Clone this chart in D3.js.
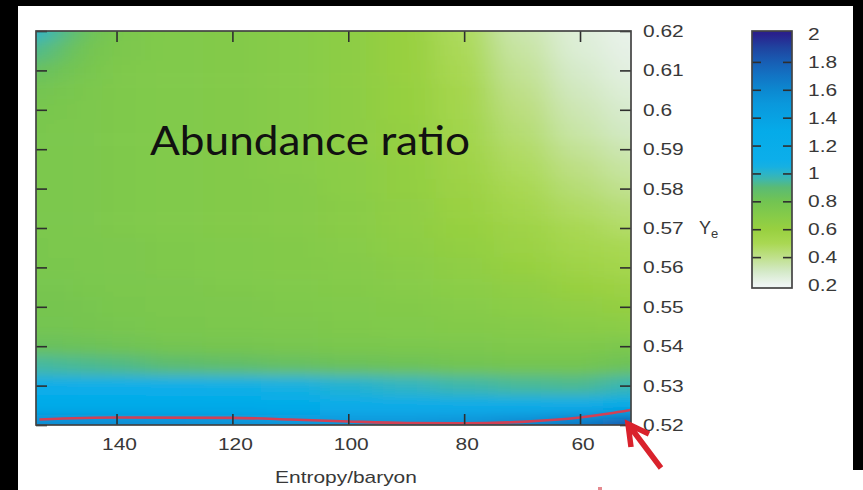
<!DOCTYPE html>
<html>
<head>
<meta charset="utf-8">
<script src="https://cdn.jsdelivr.net/npm/d3@7"></script>
<style>
  body { margin: 0; background: #fff; }
  svg { display: block; }
  .tick text { font-family: "Liberation Sans", Arial, sans-serif; font-size: 17px; fill: #383838; }
</style>
</head>
<body>
<svg id="chart" width="863" height="490"></svg>
<script>
// Grid columns (entropy per baryon) and rows (electron fraction Ye)
const entropy = [154, 150, 145, 140, 130, 120, 110, 100, 90, 80, 70, 60, 52];
const yeLevels = [0.62, 0.615, 0.61, 0.605, 0.60, 0.595, 0.59, 0.585, 0.58, 0.575, 0.57,
                  0.565, 0.56, 0.555, 0.55, 0.545, 0.54, 0.535, 0.53, 0.525, 0.52];

// Abundance ratio, one row per Ye level (top to bottom), one value per entropy column
const ratio = [
  [1.02, 0.92, 0.82, 0.75, 0.72, 0.71, 0.69, 0.66, 0.60, 0.48, 0.34, 0.26, 0.22],
  [0.93, 0.86, 0.79, 0.74, 0.72, 0.71, 0.69, 0.66, 0.60, 0.49, 0.36, 0.27, 0.23],
  [0.85, 0.81, 0.77, 0.73, 0.72, 0.71, 0.69, 0.66, 0.60, 0.50, 0.38, 0.29, 0.24],
  [0.80, 0.77, 0.75, 0.73, 0.72, 0.71, 0.69, 0.66, 0.61, 0.52, 0.40, 0.31, 0.26],
  [0.77, 0.76, 0.74, 0.73, 0.72, 0.71, 0.69, 0.66, 0.61, 0.53, 0.42, 0.33, 0.28],
  [0.76, 0.75, 0.74, 0.73, 0.72, 0.71, 0.69, 0.66, 0.62, 0.54, 0.44, 0.35, 0.30],
  [0.75, 0.75, 0.74, 0.73, 0.72, 0.71, 0.69, 0.66, 0.62, 0.55, 0.46, 0.38, 0.33],
  [0.75, 0.75, 0.74, 0.73, 0.72, 0.71, 0.69, 0.67, 0.63, 0.56, 0.48, 0.41, 0.36],
  [0.75, 0.75, 0.74, 0.73, 0.72, 0.71, 0.70, 0.67, 0.63, 0.57, 0.50, 0.44, 0.39],
  [0.75, 0.75, 0.74, 0.73, 0.72, 0.71, 0.70, 0.68, 0.64, 0.59, 0.53, 0.47, 0.43],
  [0.75, 0.75, 0.74, 0.73, 0.72, 0.71, 0.70, 0.68, 0.65, 0.61, 0.56, 0.50, 0.46],
  [0.76, 0.75, 0.75, 0.74, 0.73, 0.72, 0.71, 0.69, 0.66, 0.63, 0.58, 0.53, 0.50],
  [0.76, 0.76, 0.75, 0.74, 0.73, 0.72, 0.71, 0.70, 0.68, 0.65, 0.61, 0.56, 0.53],
  [0.77, 0.77, 0.76, 0.75, 0.74, 0.73, 0.72, 0.71, 0.69, 0.67, 0.64, 0.60, 0.57],
  [0.78, 0.78, 0.77, 0.76, 0.75, 0.74, 0.73, 0.72, 0.71, 0.69, 0.67, 0.64, 0.62],
  [0.79, 0.79, 0.78, 0.77, 0.76, 0.75, 0.74, 0.73, 0.72, 0.71, 0.70, 0.68, 0.67],
  [0.83, 0.83, 0.82, 0.81, 0.79, 0.78, 0.77, 0.76, 0.75, 0.74, 0.73, 0.73, 0.74],
  [0.95, 0.94, 0.93, 0.92, 0.89, 0.87, 0.85, 0.83, 0.82, 0.80, 0.79, 0.79, 0.82],
  [1.14, 1.14, 1.13, 1.12, 1.10, 1.08, 1.05, 1.02, 0.99, 0.96, 0.94, 0.93, 0.97],
  [1.30, 1.30, 1.30, 1.29, 1.28, 1.27, 1.26, 1.25, 1.24, 1.22, 1.21, 1.21, 1.26],
  [1.58, 1.58, 1.58, 1.57, 1.56, 1.54, 1.52, 1.52, 1.52, 1.54, 1.60, 1.68, 1.82]
];

// Red contour near the bottom of the map
const contourEntropy = [153.3, 140, 120, 110, 100, 90, 80, 70, 60, 55, 51.3];
const contourYe = [0.5214, 0.5219, 0.5218, 0.5214, 0.5209, 0.5205, 0.5204, 0.5208, 0.5219, 0.5229, 0.5238];

// Axis ticks
const xTicks = [140, 120, 100, 80, 60];
const yTicks = [0.52, 0.53, 0.54, 0.55, 0.56, 0.57, 0.58, 0.59, 0.60, 0.61, 0.62];
const cbTicks = [0.2, 0.4, 0.6, 0.8, 1.0, 1.2, 1.4, 1.6, 1.8, 2.0];

// Palette stops
const colorStops = [0.2, 0.3, 0.4, 0.5, 0.6, 0.7, 0.8, 0.9, 0.95, 1.0, 1.05, 1.1, 1.3, 1.5, 1.6, 1.7, 1.8, 1.9, 2.0];
const colorHex = ["#eef5f3", "#d3e9c6", "#bfe08a", "#a9d852", "#98d040", "#85cb49", "#72c452", "#5abb74",
                  "#42b8a4", "#2cb4c8", "#16b0e2", "#0caeea", "#05abe9", "#0a98dc", "#0c88d0", "#1274c4",
                  "#185eb4", "#1f44a0", "#29208c"];

const svg = d3.select("#chart");
const color = d3.scaleLinear().domain(colorStops).range(colorHex).clamp(true);

const x = d3.scaleLinear().domain([153.9, 51.2]).range([36, 631]);
const y = d3.scaleLinear().domain([0.52, 0.62]).range([425, 31]);

// Frame around the slide
svg.append("rect").attr("x", 0).attr("y", 0).attr("width", 863).attr("height", 6).attr("fill", "#000");
svg.append("rect").attr("x", 0).attr("y", 0).attr("width", 18).attr("height", 490).attr("fill", "#000");
svg.append("rect").attr("x", 853).attr("y", 0).attr("width", 10).attr("height", 470).attr("fill", "#000");

const defs = svg.append("defs");
defs.append("clipPath").attr("id", "plotClip")
  .append("rect").attr("x", x.range()[0]).attr("y", y.range()[1])
  .attr("width", x.range()[1] - x.range()[0]).attr("height", y.range()[0] - y.range()[1]);
const blur = defs.append("filter").attr("id", "soft")
  .attr("x", "-10%").attr("y", "-10%").attr("width", "120%").attr("height", "120%");
blur.append("feGaussianBlur").attr("stdDeviation", "16 6.5");

// Cell edges halfway between grid nodes, padded past the frame
const colX = entropy.map(e => x(e));
const rowY = yeLevels.map(v => y(v));
const colEdges = colX.map((cx, i) => [
  i === 0 ? cx - 40 : (colX[i - 1] + cx) / 2,
  i === colX.length - 1 ? cx + 40 : (cx + colX[i + 1]) / 2
]);
const rowEdges = rowY.map((ry, j) => [
  j === 0 ? ry - 40 : (rowY[j - 1] + ry) / 2,
  j === rowY.length - 1 ? ry + 40 : (ry + rowY[j + 1]) / 2
]);

const cells = [];
ratio.forEach((row, j) => row.forEach((v, i) => cells.push({ i, j, v })));

const heat = svg.append("g").attr("clip-path", "url(#plotClip)");
heat.append("g").attr("filter", "url(#soft)")
  .selectAll("rect").data(cells).join("rect")
  .attr("x", d => colEdges[d.i][0])
  .attr("y", d => rowEdges[d.j][0])
  .attr("width", d => colEdges[d.i][1] - colEdges[d.i][0] + 0.5)
  .attr("height", d => rowEdges[d.j][1] - rowEdges[d.j][0] + 0.5)
  .attr("fill", d => color(d.v));

// Contour line
const contour = contourEntropy.map((e, k) => [x(e), y(contourYe[k])]);
heat.append("path")
  .attr("d", d3.line().curve(d3.curveMonotoneX)(contour))
  .attr("fill", "none").attr("stroke", "#e23a4a").attr("stroke-width", 2.6).attr("opacity", 0.92);

// Title inside the map
svg.append("text").attr("x", 150).attr("y", 155)
  .attr("font-family", "Lato, 'Open Sans', sans-serif").attr("font-size", 41)
  .attr("fill", "#111").attr("textLength", 320).attr("lengthAdjust", "spacingAndGlyphs")
  .text("Abundance ratio");

const fmt = d => String(+d.toFixed(2));
const tickLen = 11;

const gBottom = svg.append("g").attr("transform", `translate(0,${y.range()[0]})`)
  .call(d3.axisBottom(x).tickValues(xTicks).tickSize(-tickLen).tickPadding(13).tickFormat(fmt));
const gTop = svg.append("g").attr("transform", `translate(0,${y.range()[1]})`)
  .call(d3.axisTop(x).tickValues(xTicks).tickSize(-tickLen).tickFormat(""));
const gRight = svg.append("g").attr("transform", `translate(${x.range()[1]},0)`)
  .call(d3.axisRight(y).tickValues(yTicks).tickSize(-tickLen).tickPadding(12).tickFormat(fmt));
const gLeft = svg.append("g").attr("transform", `translate(${x.range()[0]},0)`)
  .call(d3.axisLeft(y).tickValues(yTicks).tickSize(-tickLen).tickFormat(""));
[gBottom, gTop, gRight, gLeft].forEach(g => {
  g.select(".domain").remove();
  g.selectAll(".tick line").attr("stroke", "#2e2e2e").attr("stroke-width", 1.6);
});
gBottom.selectAll(".tick text").attr("dx", 2.5);

svg.append("rect")
  .attr("x", x.range()[0]).attr("y", y.range()[1])
  .attr("width", x.range()[1] - x.range()[0]).attr("height", y.range()[0] - y.range()[1])
  .attr("fill", "none").attr("stroke", "#444").attr("stroke-width", 1.7);

// Axis titles
svg.append("text").attr("x", 346).attr("y", 483).attr("text-anchor", "middle")
  .attr("font-family", "Liberation Sans, Arial, sans-serif").attr("font-size", 17).attr("fill", "#383838")
  .attr("class", "stretch").text("Entropy/baryon");
const yeLabel = svg.append("text").attr("x", 699).attr("y", 234)
  .attr("font-family", "Liberation Sans, Arial, sans-serif").attr("font-size", 18).attr("fill", "#383838");
yeLabel.append("tspan").text("Y");
yeLabel.append("tspan").attr("font-size", 13).attr("dy", 4).text("e");

// Colour bar
const cb = d3.scaleLinear().domain([0.2, 2]).range([285, 34]);
const grad = defs.append("linearGradient").attr("id", "cbGrad")
  .attr("gradientUnits", "userSpaceOnUse")
  .attr("x1", 0).attr("x2", 0).attr("y1", cb(0.2)).attr("y2", cb(2));
colorStops.forEach((v, k) => grad.append("stop")
  .attr("offset", (v - 0.2) / 1.8).attr("stop-color", colorHex[k]));
const cbX0 = 752, cbX1 = 792;
svg.append("rect").attr("x", cbX0).attr("y", cb(2) - 3).attr("width", cbX1 - cbX0)
  .attr("height", cb(0.2) - cb(2) + 6).attr("fill", "url(#cbGrad)");
const gCbR = svg.append("g").attr("transform", `translate(${cbX1},0)`)
  .call(d3.axisRight(cb).tickValues(cbTicks).tickSize(-9).tickPadding(16).tickFormat(fmt));
const gCbL = svg.append("g").attr("transform", `translate(${cbX0},0)`)
  .call(d3.axisLeft(cb).tickValues(cbTicks.slice(1, -1)).tickSize(-9).tickFormat(""));
[gCbR, gCbL].forEach(g => {
  g.select(".domain").remove();
  g.selectAll(".tick line").attr("stroke", "#2e2e2e").attr("stroke-width", 1.6);
});
gCbR.selectAll(".tick").filter(d => d === 0.2 || d === 2).select("line").remove();
svg.append("rect").attr("x", cbX0).attr("y", cb(2) - 3).attr("width", cbX1 - cbX0)
  .attr("height", cb(0.2) - cb(2) + 6).attr("fill", "none").attr("stroke", "#444").attr("stroke-width", 1.7);

// Labels in the source are set wide; widen each label to match
svg.selectAll(".tick text, text.stretch").each(function () {
  const w = this.getComputedTextLength();
  if (w > 0) d3.select(this).attr("textLength", w * 1.23).attr("lengthAdjust", "spacingAndGlyphs");
});

// Arrow pointing at the lower right corner of the map
const tipX = x.range()[1] - 3, tipY = y.range()[0] - 1;
svg.append("path")
  .attr("d", `M${tipX + 33},${tipY + 44} L${tipX},${tipY} M${tipX + 3},${tipY + 23} L${tipX},${tipY} L${tipX + 21},${tipY + 10}`)
  .attr("fill", "none").attr("stroke", "#d9222c").attr("stroke-width", 5.5)
  .attr("stroke-linecap", "butt").attr("stroke-linejoin", "miter");
svg.append("rect").attr("x", 598).attr("y", 487).attr("width", 4).attr("height", 3).attr("fill", "#e58a90");
</script>
</body>
</html>
